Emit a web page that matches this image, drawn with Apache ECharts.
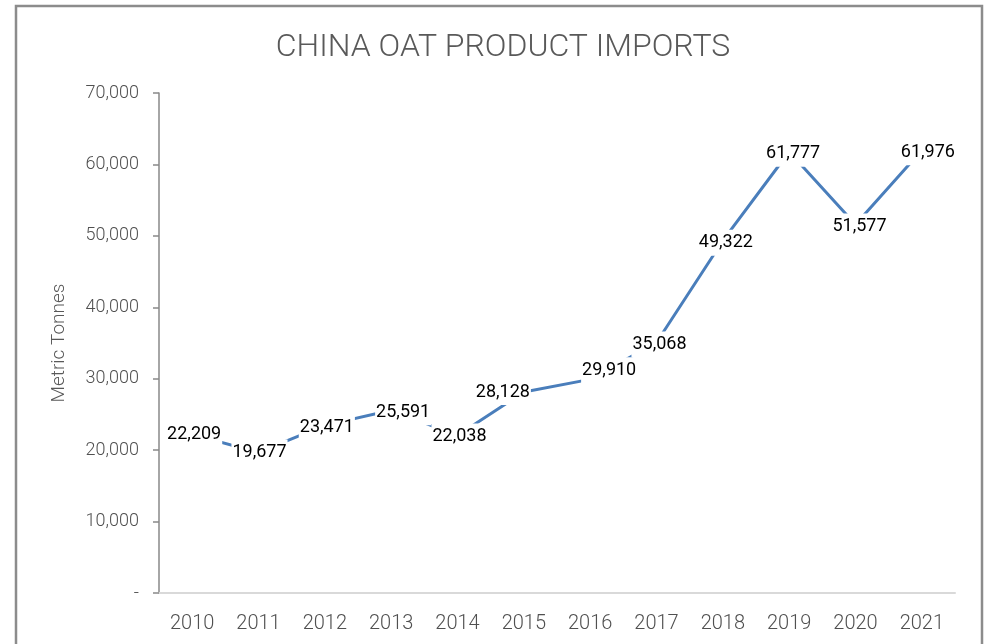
<!DOCTYPE html>
<html>
<head>
<meta charset="utf-8">
<script src="https://cdn.jsdelivr.net/npm/echarts@6/dist/echarts.min.js"></script>
<style>
html,body{margin:0;padding:0;background:#fff;}
#chart{width:988px;height:644px;}
</style>
</head>
<body>
<div id="chart"></div>
<script>
const years = ['2010','2011','2012','2013','2014','2015','2016','2017','2018','2019','2020','2021'];
const imports = [22209, 19677, 23471, 25591, 22038, 28128, 29910, 35068, 49322, 61777, 51577, 61976];
const yTicks = [0, 10000, 20000, 30000, 40000, 50000, 60000, 70000];
const chartTitle = 'CHINA OAT PRODUCT IMPORTS';
const yAxisName = 'Metric Tonnes';

// label nudges (pixels) to mimic the hand-placed labels
const labelNudges = [[2,0],[1,0],[2,2],[12,2],[2,1],[-21,0],[19,-9],[3,2],[3,2],[4,2],[4,2],[6,2]];

const fmt = v => v === 0 ? '-' : v.toLocaleString('en-US');

const chart = echarts.init(document.getElementById('chart'), null, {renderer: 'canvas'});
chart.setOption({
  backgroundColor: '#ffffff',
  animation: false,
  graphic: [{
    type: 'rect',
    shape: {x: 16, y: 6, width: 966, height: 660},
    style: {fill: 'none', stroke: '#8c8c8c', lineWidth: 2.5},
    silent: true, z: 100
  }],
  title: {
    text: chartTitle,
    left: 498, textAlign: 'center', top: 27,
    textStyle: {fontFamily: 'Roboto', fontWeight: 300, fontSize: 32, color: '#595959'}
  },
  grid: {left: 159, right: 33, top: 93, bottom: 51, containLabel: false},
  xAxis: {
    type: 'category',
    data: years,
    boundaryGap: true,
    axisLine: {show: true, lineStyle: {color: '#d9d9d9', width: 2}},
    axisTick: {show: false},
    axisLabel: {margin: 21, fontFamily: 'Roboto', fontWeight: 300, fontSize: 20, color: '#505050'}
  },
  yAxis: {
    type: 'value',
    min: yTicks[0], max: yTicks[yTicks.length - 1], interval: yTicks[1] - yTicks[0],
    name: yAxisName,
    nameLocation: 'middle', nameGap: 90, nameRotate: 90,
    nameTextStyle: {fontFamily: 'Roboto', fontWeight: 300, fontSize: 19, color: '#595959'},
    axisLine: {show: true, lineStyle: {color: '#898989', width: 1.5}},
    axisTick: {show: true, length: 6, lineStyle: {color: '#898989', width: 1.5}},
    splitLine: {show: false},
    axisLabel: {margin: 20, fontFamily: 'Roboto', fontWeight: 300, fontSize: 18, color: '#505050', formatter: fmt}
  },
  series: [{
    type: 'line',
    data: imports.map((v, i) => ({value: v, label: {offset: labelNudges[i]}})),
    symbol: 'circle', symbolSize: 0, showSymbol: true,
    lineStyle: {color: '#4a7ebb', width: 3},
    itemStyle: {color: '#4a7ebb'},
    label: {
      show: true, position: 'inside',
      formatter: p => fmt(p.value),
      fontFamily: 'Roboto', fontSize: 18, lineHeight: 18, color: '#000000',
      backgroundColor: '#ffffff', padding: [4, 1]
    },
    z: 2
  }]
});
</script>
</body>
</html>
